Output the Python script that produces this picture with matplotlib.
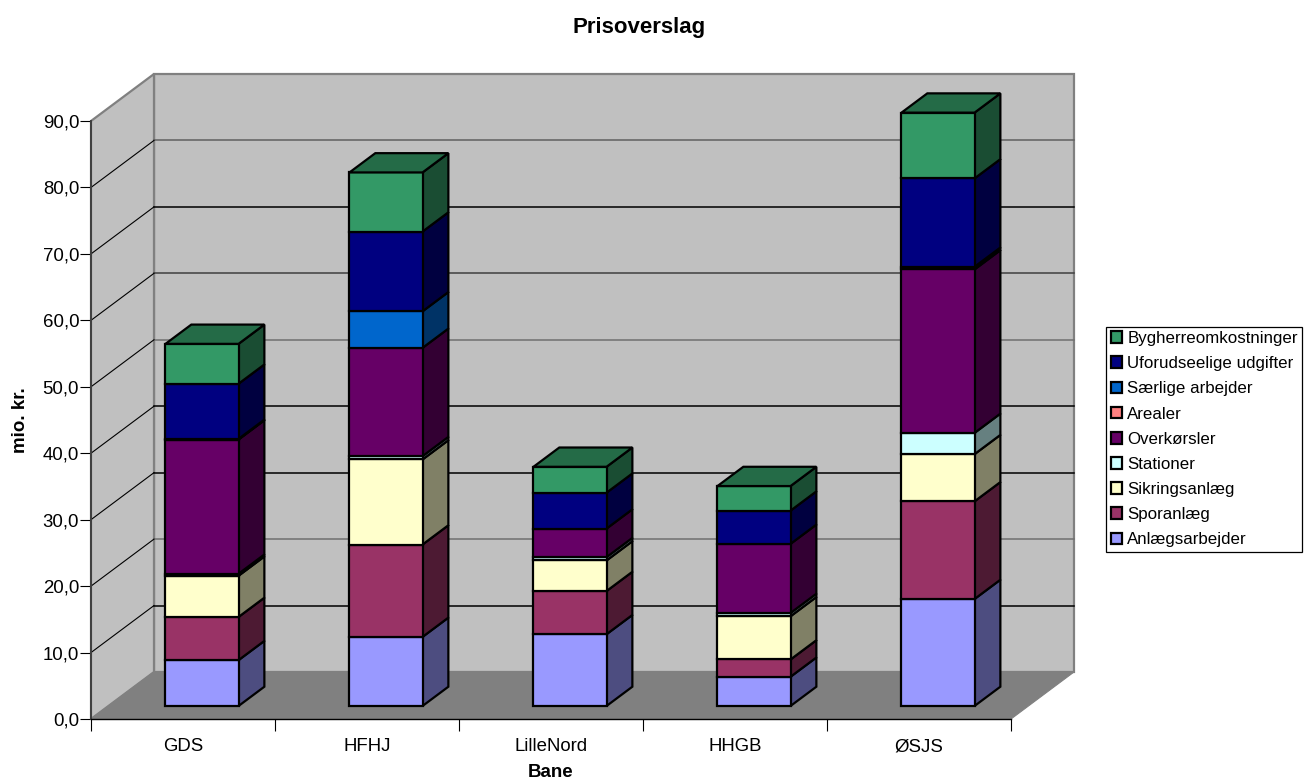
import matplotlib
matplotlib.use('Agg')
import matplotlib.pyplot as plt
from matplotlib.patches import Polygon, Patch
import numpy as np

plt.rcParams['font.family'] = ['Liberation Sans', 'DejaVu Sans']

# Data
baner = ['GDS', 'HFHJ', 'LilleNord', 'HHGB', 'ØSJS']
poster = ['Anlægsarbejder', 'Sporanlæg', 'Sikringsanlæg', 'Stationer', 'Overkørsler',
          'Arealer', 'Særlige arbejder', 'Uforudseelige udgifter', 'Bygherreomkostninger']
anlaeg = [6.9, 10.4, 10.8, 4.4, 16.1]
spor = [6.5, 13.9, 6.5, 2.6, 14.7]
sikring = [6.2, 12.8, 4.6, 6.5, 7.1]
stationer = [0.3, 0.5, 0.5, 0.5, 3.2]
overkorsler = [20.2, 16.3, 4.3, 10.4, 24.6]
arealer = [0.1, 0.0, 0.0, 0.0, 0.4]
saerlige = [0.0, 5.5, 0.0, 0.0, 0.0]
uforudseelige = [8.3, 12.0, 5.4, 5.0, 13.3]
bygherre = [6.0, 8.9, 3.9, 3.7, 9.9]
serier = [anlaeg, spor, sikring, stationer, overkorsler, arealer, saerlige, uforudseelige, bygherre]

farver = ['#9999FF', '#993366', '#FFFFCC', '#CCFFFF', '#660066',
          '#FF8080', '#0066CC', '#000080', '#339966']
yticks = np.arange(0, 100, 10)
grid_farver = ['#000000', '#000000', '#707070', '#000000', '#000000',
               '#707070', '#404040', '#000000', '#606060', '#808080']

# Skewed depth: z=1 is the back wall
DX = 63 / 184
DY = 47 / 6.644
Z0 = 0.277
Z1 = Z0 + 0.41
BAR_W = 0.397
BAR_OFFSET = 0.31


def proj(x, y, z):
    return (x + z * DX, y + z * DY)


def shade(farve, f):
    r, g, b = matplotlib.colors.to_rgb(farve)
    return (r * f, g * f, b * f)


def flade(ax, pts, farve, kant='black', lw=1.6, zorder=3):
    ax.add_patch(Polygon([proj(*p) for p in pts], closed=True, facecolor=farve,
                         edgecolor=kant, linewidth=lw, clip_on=False,
                         joinstyle='miter', zorder=zorder))


fig = plt.figure(figsize=(13.13, 7.79), dpi=100)
ax = fig.add_axes([91 / 1313, 60 / 779, 920 / 1313, 598 / 779])
ax.set_xlim(0, 5)
ax.set_ylim(0, 90)
ax.patch.set_visible(False)

# walls and floor
flade(ax, [(0, 0, 1), (5, 0, 1), (5, 90, 1), (0, 90, 1)], '#C0C0C0', '#808080', 1.6, 1)
flade(ax, [(0, 0, 0), (0, 0, 1), (0, 90, 1), (0, 90, 0)], '#C0C0C0', '#808080', 1.6, 1)
flade(ax, [(0, 0, 0), (5, 0, 0), (5, 0, 1), (0, 0, 1)], '#808080', '#808080', 0.8, 1)

for v, c in zip(yticks[1:], grid_farver[1:]):
    xs, ys = zip(proj(0, v, 1), proj(5, v, 1))
    ax.plot(xs, ys, color=c, lw=1.1, clip_on=False, zorder=2)
    if v < 90:
        xs, ys = zip(proj(0, v, 0), proj(0, v, 1))
        ax.plot(xs, ys, color='black', lw=0.8, clip_on=False, zorder=2)

# stacked bars, bottom segment first
for i in range(len(baner)):
    x0 = i + BAR_OFFSET
    x1 = x0 + BAR_W
    bund = 0.0
    for serie, farve in zip(serier, farver):
        v = serie[i]
        if v == 0:
            continue
        top = bund + v
        flade(ax, [(x1, bund, Z0), (x1, bund, Z1), (x1, top, Z1), (x1, top, Z0)], shade(farve, 0.5))
        flade(ax, [(x0, bund, Z0), (x1, bund, Z0), (x1, top, Z0), (x0, top, Z0)], farve)
        bund = top
        sidste = farve
    flade(ax, [(x0, bund, Z0), (x1, bund, Z0), (x1, bund, Z1), (x0, bund, Z1)], shade(sidste, 0.7))

# axes
ax.spines['top'].set_visible(False)
ax.spines['right'].set_visible(False)
ax.spines['left'].set_linewidth(1.4)
ax.spines['left'].set_color('#404040')
ax.spines['bottom'].set_linewidth(1.0)
ax.set_yticks(yticks)
ax.set_yticklabels([f'{v:.1f}'.replace('.', ',') for v in yticks], fontsize=13.4)
ax.set_xticks(np.arange(6))
ax.set_xticklabels([])
ax.set_xticks(np.arange(5) + 0.5, minor=True)
ax.set_xticklabels(baner, minor=True, fontsize=13.4)
ax.tick_params(axis='x', which='major', length=8.5, width=0.8)
ax.tick_params(axis='x', which='minor', length=0, pad=14)
ax.tick_params(axis='y', length=8, width=0.8, pad=0.5)
ax.set_xlabel('Bane', fontsize=13.5, fontweight='bold', labelpad=6)
ax.set_ylabel('mio. kr.', fontsize=13.5, fontweight='bold', labelpad=10)

fig.suptitle('Prisoverslag', x=639 / 1313, y=1 - 27.5 / 779, va='center',
             fontsize=16, fontweight='bold')

handles = [Patch(facecolor=f, edgecolor='black', linewidth=1.6, label=p)
           for f, p in zip(farver, poster)][::-1]
leg = fig.legend(handles=handles, loc='upper left',
                 bbox_to_anchor=(1106 / 1313, 1 - 326.5 / 779), fontsize=12.2,
                 frameon=True, fancybox=False, edgecolor='black', framealpha=1,
                 handlelength=0.68, handleheight=0.68, handletextpad=0.3,
                 labelspacing=0.6, borderpad=0.27, borderaxespad=0)
leg.get_frame().set_linewidth(0.9)

plt.savefig('out.png', dpi=100)
plt.close()
